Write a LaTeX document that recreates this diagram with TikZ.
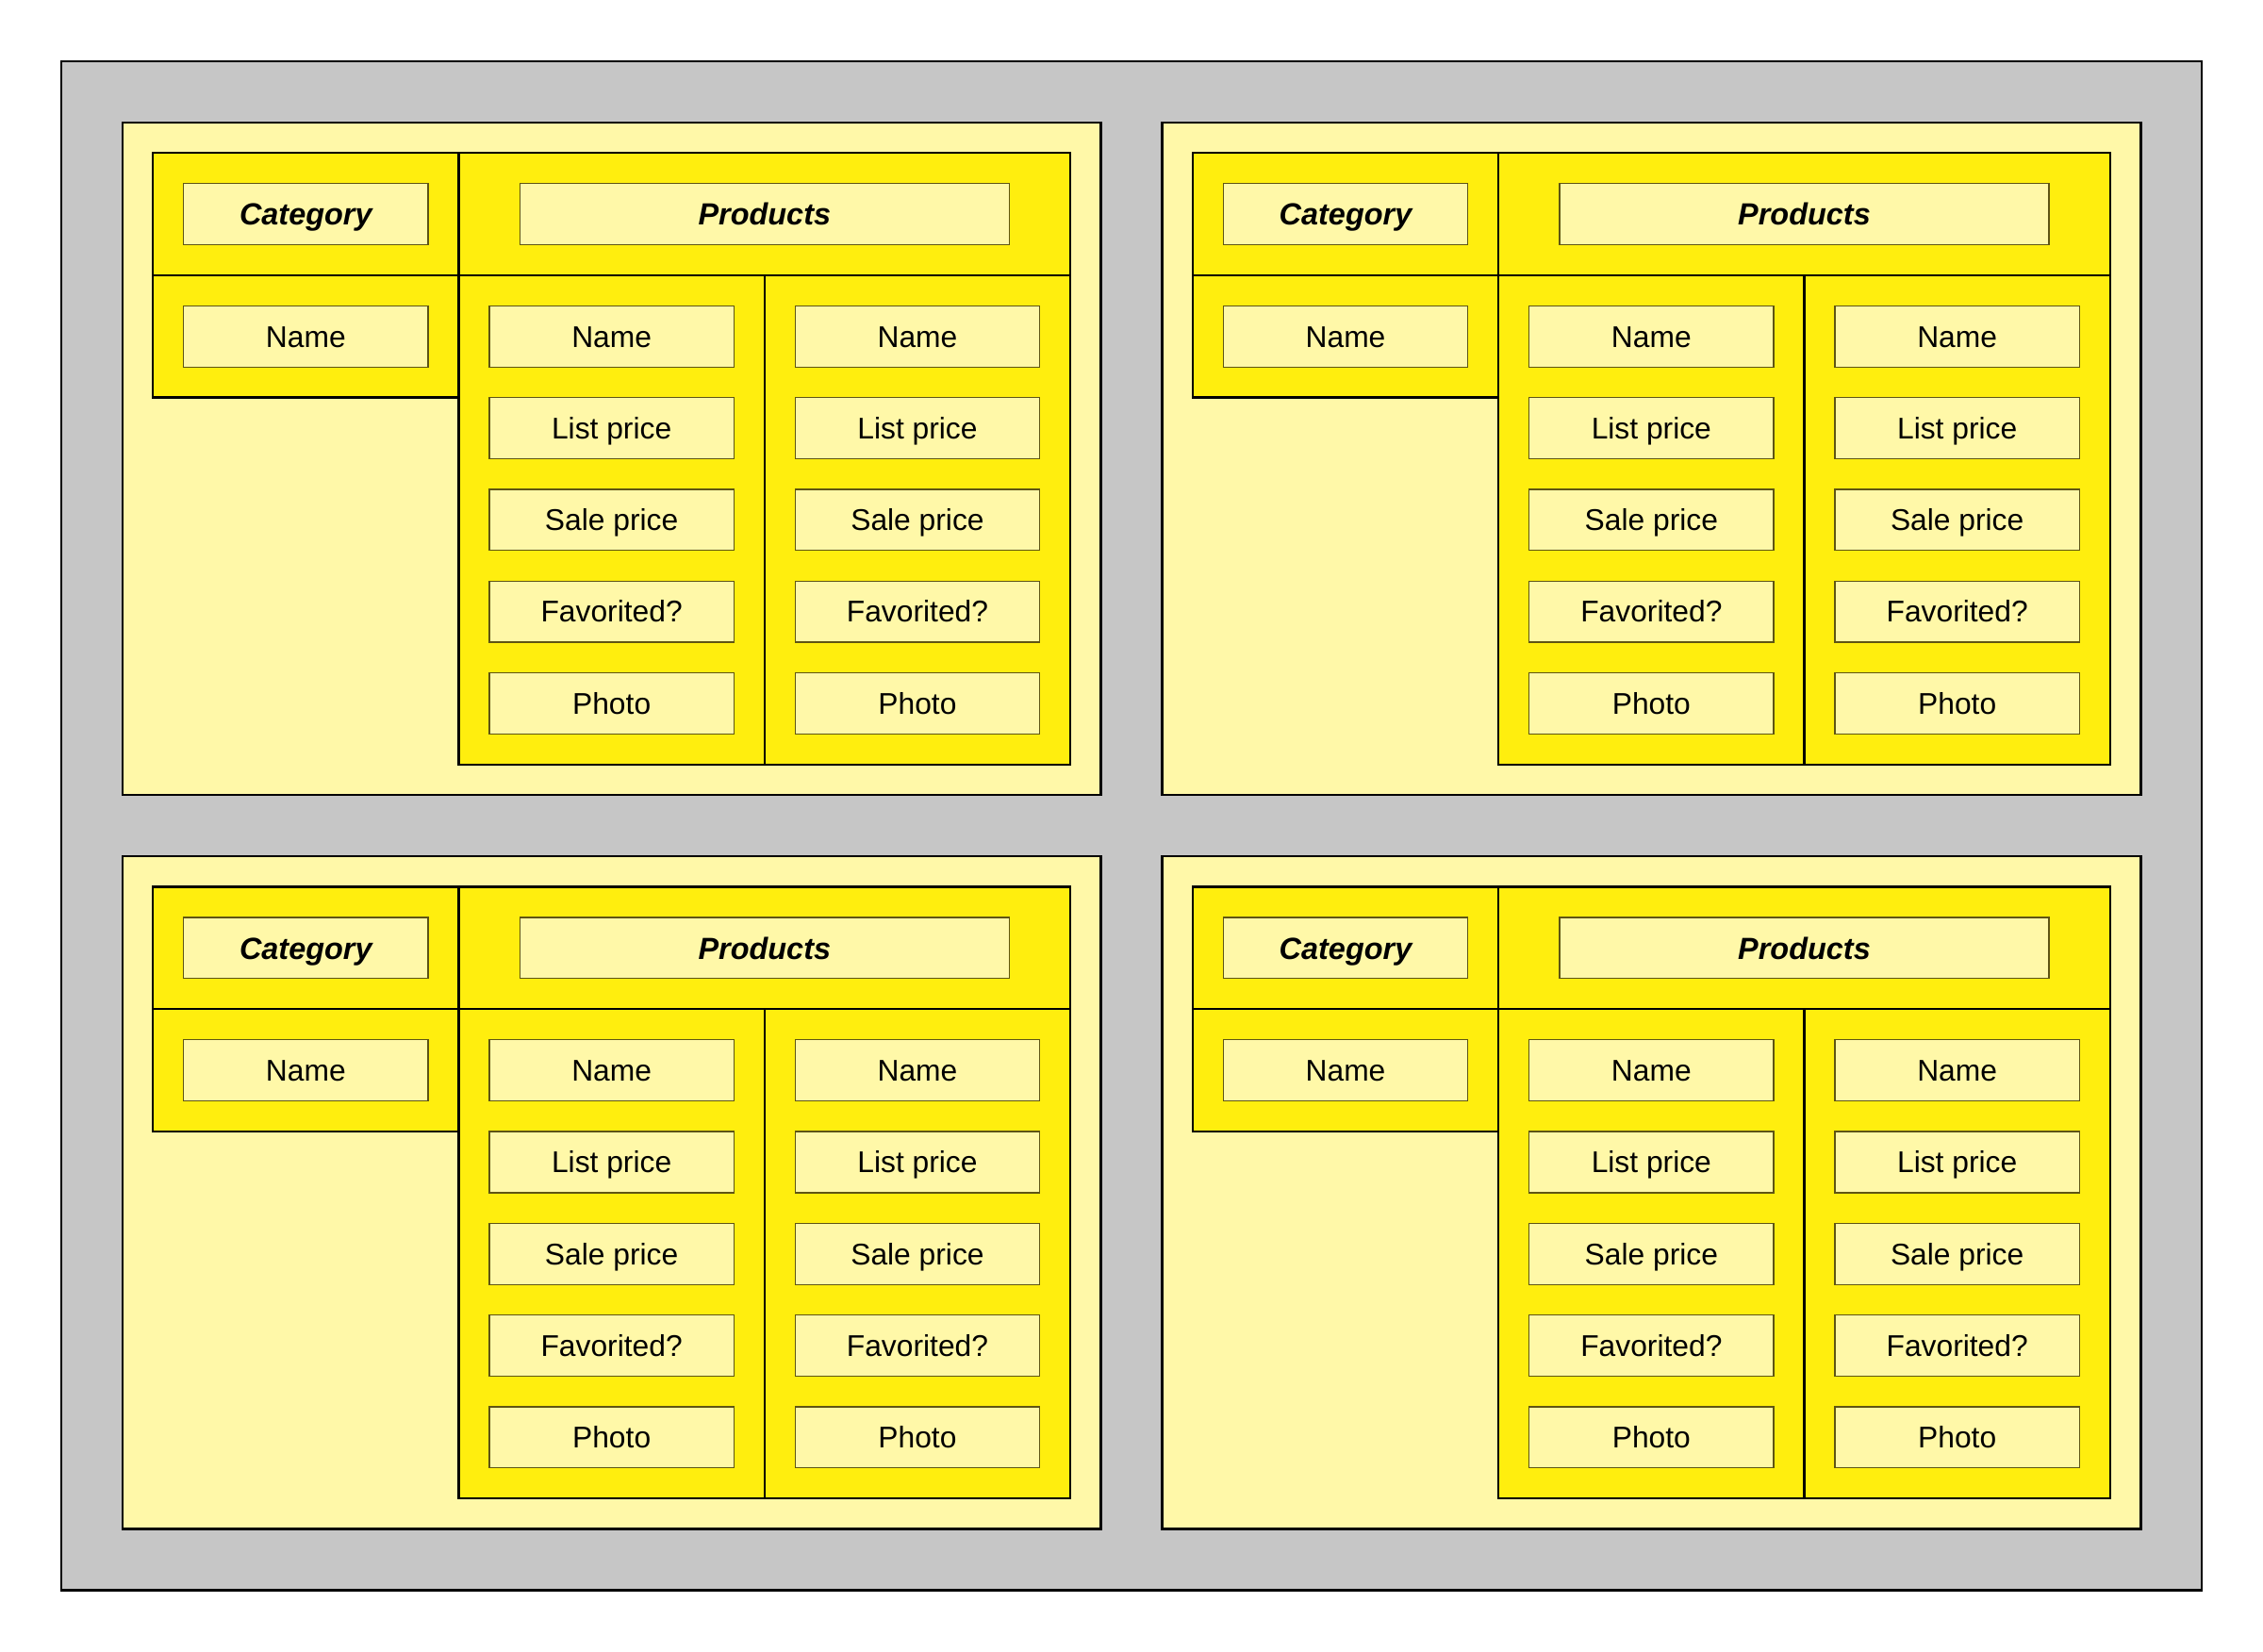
\documentclass[tikz,border=0pt]{standalone}
\usepackage{fontspec}
\setmainfont{Liberation Sans}
\definecolor{framegray}{HTML}{C6C6C6}
\definecolor{pale}{HTML}{FFF8A8}
\definecolor{bright}{HTML}{FFEE0E}
\definecolor{boxline}{HTML}{5E5414}
\tikzset{
  outerframe/.style={draw=black, line width=0.75pt, fill=framegray, anchor=north west, inner sep=0pt, outer sep=0pt, minimum width=700pt, minimum height=500pt},
  panelbox/.style={draw=black, line width=0.75pt, fill=pale, anchor=north west, inner sep=0pt, outer sep=0pt, minimum width=320pt, minimum height=220pt},
  cell/.style={draw=black, line width=0.75pt, fill=bright, anchor=north west, inner sep=0pt, outer sep=0pt},
  fieldbox/.style={draw=boxline, line width=0.4pt, fill=pale, inner sep=0pt, minimum width=80pt, minimum height=20pt, text height=7.0pt, text depth=0pt, font=\fontsize{9.8}{12}\selectfont},
  headbox/.style={fieldbox, text height=7.2pt, font=\fontsize{10}{12}\selectfont\bfseries\itshape},
}
\begin{document}
\begin{tikzpicture}[x=10pt,y=-10pt]
\useasboundingbox (0,0) rectangle (74,54);
\node[outerframe] (outer) at (2,2) {};
\foreach \px/\py/\id in {4/4/a,38/4/b,4/28/c,38/28/d} {
  \begin{scope}[shift={(\px,\py)}]
    \node[panelbox] (\id-panel) at (0,0) {};
    \node[cell, minimum width=100pt, minimum height=40pt] (\id-cathead) at (1,1) {};
    \node[cell, minimum width=100pt, minimum height=40pt] (\id-catname) at (1,5) {};
    \node[cell, minimum width=200pt, minimum height=40pt] (\id-prodhead) at (11,1) {};
    \node[cell, minimum width=100pt, minimum height=160pt] (\id-col1) at (11,5) {};
    \node[cell, minimum width=100pt, minimum height=160pt] (\id-col2) at (21,5) {};
    \node[headbox] (\id-catlabel) at (6,3) {Category};
    \node[headbox, minimum width=160pt] (\id-prodlabel) at (21,3) {Products};
    \node[fieldbox] (\id-catfield) at (6,7) {Name};
    \foreach \f [count=\i] in {Name,List price,Sale price,Favorited?,Photo} {
      \node[fieldbox] (\id-c1-\i) at (16,{7+3*(\i-1)}) {\f};
      \node[fieldbox] (\id-c2-\i) at (26,{7+3*(\i-1)}) {\f};
    }
  \end{scope}
}
\end{tikzpicture}
\end{document}
